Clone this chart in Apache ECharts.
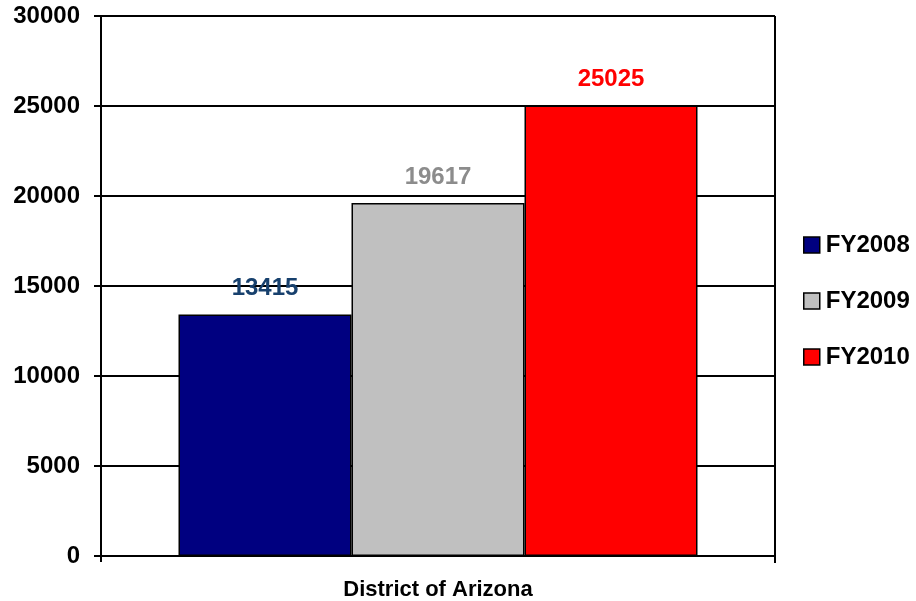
<!DOCTYPE html>
<html>
<head>
<meta charset="utf-8">
<script src="https://cdn.jsdelivr.net/npm/echarts@6/dist/echarts.min.js"></script>
<style>
  html, body { margin: 0; padding: 0; background: #fff; }
  #chart { width: 916px; height: 601px; }
</style>
</head>
<body>
<div id="chart"></div>
<script>
(function(){
    // data
    var categories = ['District of Arizona'];
    var seriesNames = ['FY2008', 'FY2009', 'FY2010'];
    var seriesValues = [[13415], [19617], [25025]];
    var barColors = ['#000080', '#c0c0c0', '#ff0000'];
    var labelColors = ['#17406d', '#8c8c8c', '#ff0000'];

    var myChart = echarts.init(document.getElementById('chart'));

    var series = seriesNames.map(function (name, i) {
        return {
            name: name,
            type: 'bar',
            data: seriesValues[i],
            barWidth: 173,
            barGap: '0%',
            itemStyle: { color: barColors[i], borderColor: '#000', borderWidth: 1.5 },
            label: {
                show: true,
                position: 'top',
                distance: 14,
                color: labelColors[i],
                fontFamily: 'Liberation Sans, Arial, sans-serif',
                fontWeight: 'bold',
                fontSize: 24
            }
        };
    });

    var option = {
        animation: false,
        grid: { left: 101, right: 141, top: 16, bottom: 44 },
        legend: {
            orient: 'vertical',
            left: 798,
            top: 228,
            itemWidth: 16,
            itemHeight: 16,
            itemGap: 32,
            icon: 'rect',
            itemStyle: { borderColor: '#000', borderWidth: 1.5 },
            textStyle: {
                color: '#000',
                fontFamily: 'Liberation Sans, Arial, sans-serif',
                fontWeight: 'bold',
                fontSize: 24,
                padding: [0, 0, 0, 1]
            },
            data: seriesNames
        },
        xAxis: {
            type: 'category',
            data: categories,
            axisLine: { lineStyle: { color: '#000', width: 2 } },
            axisTick: { show: true, length: 6, lineStyle: { color: '#000', width: 2 } },
            axisLabel: {
                color: '#000',
                fontFamily: 'Liberation Sans, Arial, sans-serif',
                fontWeight: 'bold',
                fontSize: 22,
                margin: 23
            },
            splitLine: { show: false }
        },
        yAxis: {
            type: 'value',
            min: 0,
            max: 30000,
            interval: 5000,
            axisLine: { show: true, lineStyle: { color: '#000', width: 2 } },
            axisTick: { show: true, length: 7, lineStyle: { color: '#000', width: 2 } },
            axisLabel: {
                color: '#000',
                fontFamily: 'Liberation Sans, Arial, sans-serif',
                fontWeight: 'bold',
                fontSize: 24,
                margin: 21,
                formatter: function (v) { return String(v); }
            },
            splitLine: { show: true, lineStyle: { color: '#000', width: 2 } }
        },
        series: series
    };

    // right border of the plot
    option.graphic = [{
        type: 'line',
        shape: { x1: 775, y1: 16, x2: 775, y2: 563 },
        style: { stroke: '#000', lineWidth: 2 },
        z: 10
    }];

    myChart.setOption(option);
})();
</script>
</body>
</html>
